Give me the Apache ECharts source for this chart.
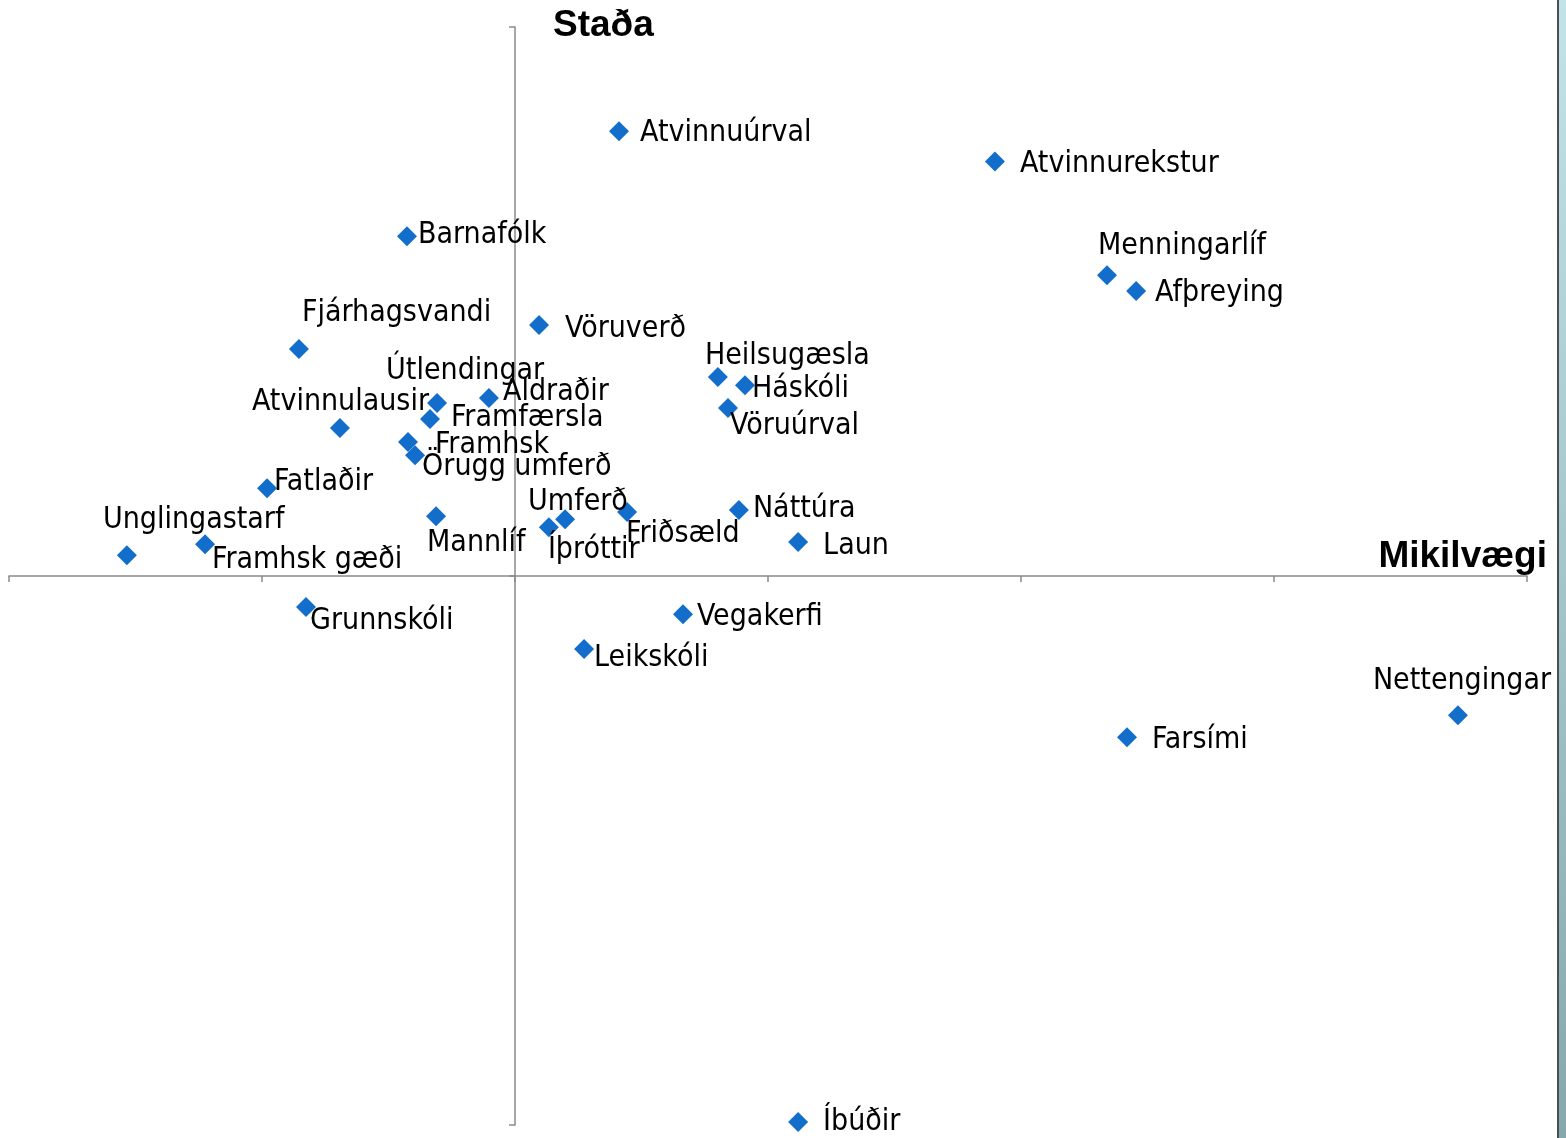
<!DOCTYPE html>
<html>
<head>
<meta charset="utf-8">
<script src="https://cdn.jsdelivr.net/npm/echarts@6/dist/echarts.min.js"></script>
<style>
  html, body { margin: 0; padding: 0; background: #fff; }
  #chart { width: 1566px; height: 1138px; }
</style>
</head>
<body>
<div id="chart"></div>
<script>
// Categories and coordinates (Mikilvægi = x, Staða = y)
const names = [
    'Atvinnuúrval', 'Atvinnurekstur', 'Barnafólk', 'Menningarlíf', 'Afþreying',
    'Fjárhagsvandi', 'Vöruverð', 'Heilsugæsla', 'Háskóli', 'Vöruúrval',
    'Útlendingar', 'Aldraðir', 'Framfærsla', 'Atvinnulausir', 'Framhsk',
    'Örugg umferð', 'Fatlaðir', 'Unglingastarf', 'Framhsk gæði', 'Mannlíf',
    'Íþróttir', 'Umferð', 'Friðsæld', 'Náttúra', 'Laun',
    'Grunnskóli', 'Vegakerfi', 'Leikskóli', 'Farsími', 'Nettengingar', 'Íbúðir'
];
const mikilvaegi = [
    0.411, 1.897, -0.427, 2.340, 2.455,
    -0.854, 0.095, 0.802, 0.909, 0.842,
    -0.308, -0.103, -0.336, -0.692, -0.423,
    -0.395, -0.980, -1.534, -1.225, -0.312,
    0.134, 0.198, 0.443, 0.885, 1.119,
    -0.826, 0.664, 0.273, 2.419, 3.727, 1.119
];
const stada = [
    1.620, 1.510, 1.238, 1.096, 1.038,
    0.827, 0.914, 0.725, 0.695, 0.612,
    0.630, 0.648, 0.572, 0.539, 0.488,
    0.440, 0.320, 0.076, 0.116, 0.218,
    0.178, 0.207, 0.233, 0.240, 0.124,
    -0.113, -0.139, -0.266, -0.587, -0.507, -1.989
];

// label placement: [dx, dy] of text left/middle from the marker centre
const labelShift = {
    'Atvinnuúrval': [21, 0], 'Atvinnurekstur': [25, 1], 'Barnafólk': [11, -3],
    'Menningarlíf': [-9, -31], 'Afþreying': [19, 0], 'Fjárhagsvandi': [3, -38],
    'Vöruverð': [26, 2], 'Heilsugæsla': [-13, -23], 'Háskóli': [7, 2],
    'Vöruúrval': [2, 16], 'Útlendingar': [-51, -34], 'Aldraðir': [14, -8],
    'Framfærsla': [21, -3], 'Atvinnulausir': [-88, -28], 'Framhsk': [27, 1],
    'Örugg umferð': [7, 10], 'Fatlaðir': [7, -8], 'Unglingastarf': [-24, -37],
    'Framhsk gæði': [7, 14], 'Mannlíf': [-9, 25], 'Íþróttir': [-1, 21],
    'Umferð': [-37, -19], 'Friðsæld': [-1, 20], 'Náttúra': [14, -3],
    'Laun': [25, 2], 'Grunnskóli': [4, 12], 'Vegakerfi': [14, 1],
    'Leikskóli': [10, 7], 'Farsími': [25, 1], 'Nettengingar': [-85, -36],
    'Íbúðir': [25, -2]
};

const symSize = 20;
const labelFont = "'DejaVu Sans Condensed', 'Liberation Sans', sans-serif";

const points = names.map((n, i) => {
    const s = labelShift[n] || [12, 0];
    return {
        name: n,
        value: [mikilvaegi[i], stada[i]],
        label: { position: [symSize / 2 + s[0], symSize / 2 + s[1] + 2] }
    };
});

const chart = echarts.init(document.getElementById('chart'));
chart.setOption({
    backgroundColor: '#ffffff',
    animation: false,
    grid: { left: 9, right: 39, top: 27, bottom: 13 },
    xAxis: {
        type: 'value',
        min: -2, max: 4, interval: 1,
        axisLine: { onZero: true, lineStyle: { color: '#8a8a8a', width: 1.5 } },
        axisTick: { show: true, length: 6, lineStyle: { color: '#8a8a8a', width: 1.5 } },
        axisLabel: { show: false },
        splitLine: { show: false }
    },
    yAxis: {
        type: 'value',
        min: -2, max: 2, interval: 2,
        axisLine: { onZero: true, lineStyle: { color: '#8a8a8a', width: 1.5 } },
        axisTick: { show: true, length: 6, lineStyle: { color: '#8a8a8a', width: 1.5 } },
        axisLabel: { show: false },
        splitLine: { show: false }
    },
    series: [{
        type: 'scatter',
        symbol: 'diamond',
        symbolSize: symSize,
        itemStyle: { color: '#136ecb', opacity: 1 },
        label: {
            show: true,
            formatter: '{b}',
            align: 'left',
            verticalAlign: 'middle',
            color: '#000',
            fontFamily: labelFont,
            fontSize: 30
        },
        labelLayout: { hideOverlap: false },
        data: points
    }],
    graphic: [
        {
            type: 'text', left: 553, top: 7,
            style: { text: 'Staða', font: "bold 37px 'Liberation Sans', Arial, sans-serif", fill: '#000' }
        },
        {
            type: 'text', right: 19, top: 538,
            style: { text: 'Mikilvægi', font: "bold 37px 'Liberation Sans', Arial, sans-serif", fill: '#000' }
        },
        {
            type: 'rect', left: 1557, top: 0,
            shape: { width: 2, height: 1138 },
            style: { fill: '#4a4f52' }
        },
        {
            type: 'rect', left: 1559, top: 0,
            shape: { width: 7, height: 1138 },
            style: {
                fill: new echarts.graphic.LinearGradient(0, 0, 0, 1, [
                    { offset: 0, color: '#c4e3e8' },
                    { offset: 1, color: '#86a8ad' }
                ])
            }
        }
    ]
});
</script>
</body>
</html>
